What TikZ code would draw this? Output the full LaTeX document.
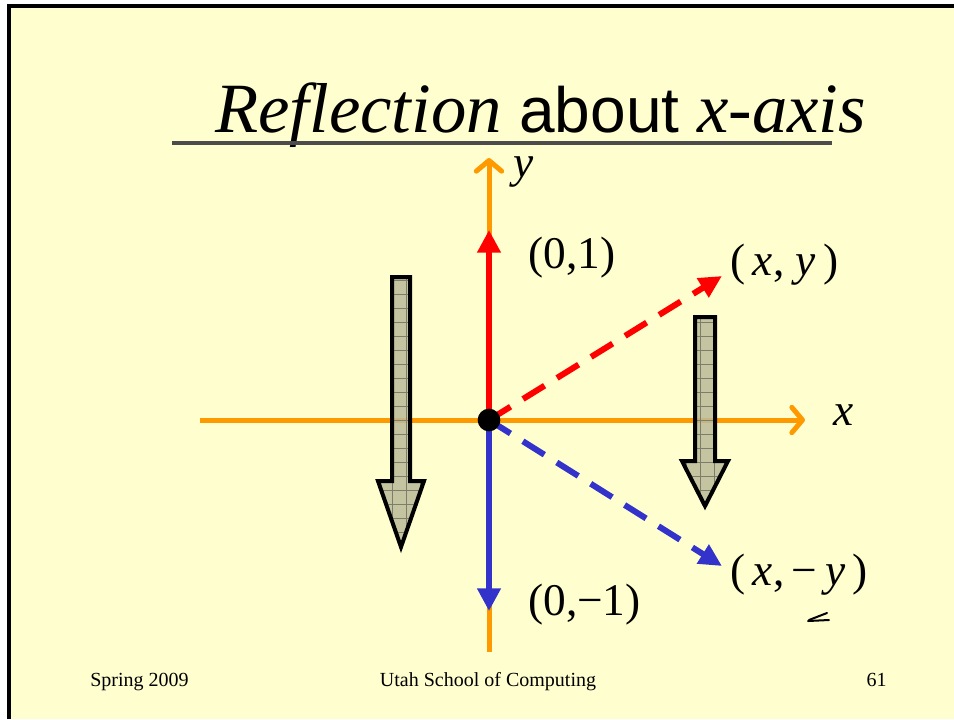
\documentclass[tikz,border=0pt]{standalone}
\usepackage{fontspec}
\setmainfont{Liberation Serif}
\newfontfamily\arialfont{Liberation Sans}
\usetikzlibrary{arrows.meta}
\definecolor{slidebg}{RGB}{255,254,206}
\definecolor{axisorange}{RGB}{255,153,0}
\definecolor{vecred}{RGB}{255,0,0}
\definecolor{vecblue}{RGB}{51,51,204}
\definecolor{blockfill}{RGB}{186,186,152}
\definecolor{blockgrid}{RGB}{125,125,110}

\begin{document}
\begin{tikzpicture}[x=0.75pt,y=-0.75pt,
  axis/.style={line width=3.75pt,axisorange,-{Straight Barb[length=8pt,width=19pt,round]}},
  vec/.style={line width=4pt,-{Triangle[length=17pt,width=17pt]}},
  dashvec/.style={line width=4.5pt,dash pattern=on 19pt off 11pt,-{Triangle[length=17pt,width=16pt]}},
  lbl/.style={anchor=west,inner sep=0pt,font=\fontsize{34}{40}\selectfont},
  foot/.style={inner sep=0pt,font=\fontsize{15}{18}\selectfont}]
\useasboundingbox (0,0) rectangle (954,719);
\fill[white] (0,0) rectangle (954,719);
\fill[slidebg] (9,6) rectangle (954,719);
\draw[line width=2.5pt] (9,719) -- (9,6) -- (954,6);

% title
\node[anchor=base west,inner sep=0pt,font=\fontsize{53}{60}\selectfont] (title) at (215,132)
  {\itshape Reflection\upshape\ {\arialfont\fontsize{48}{60}\selectfont about} \itshape x-axis};
\draw[line width=2.4pt,black!70] (172,143) -- (832,143);

% axes
\coordinate (o) at (489,420);
\coordinate (xl) at (200,420);
\coordinate (xr) at (805,420);
\coordinate (yb) at (489,652);
\coordinate (yt) at (489,158);
\draw[axis] (xl) -- (xr);
\draw[axis] (yb) -- (yt);
\node[lbl,font=\fontsize{34}{40}\selectfont\itshape] (xlab) at (833,415) {x};
\node[lbl,font=\fontsize{34}{40}\selectfont\itshape] (ylab) at (513,172) {y};

% block arrows
\foreach \xa/\xb/\ya/\yb/\ha/\hb/\yc in {392/410/277/481/378/424/547, 695/715/317/461/682/728/506}{
  \begin{scope}
    \clip (\xa,\ya) -- (\xb,\ya) -- (\xb,\yb) -- (\hb,\yb)
      -- ({(\xa+\xb)/2},\yc) -- (\ha,\yb) -- (\xa,\yb) -- cycle;
    \fill[blockfill,opacity=0.85] (300,200) rectangle (800,600);
    \draw[blockgrid,line width=0.5pt,step=10.5pt] (300,200) grid (800,600);
  \end{scope}
  \draw[line width=3pt,line join=miter] (\xa,\ya) -- (\xb,\ya) -- (\xb,\yb) -- (\hb,\yb)
    -- ({(\xa+\xb)/2},\yc) -- (\ha,\yb) -- (\xa,\yb) -- cycle;
}

% vectors
\coordinate (e1) at (489,230);
\coordinate (e2) at (489,611);
\coordinate (p) at (722,276);
\coordinate (q) at (722,566);
\draw[vec,vecred] (o) -- (e1);
\draw[vec,vecblue] (o) -- (e2);
\draw[dashvec,vecred] (o) -- (p);
\draw[dashvec,vecblue] (o) -- (q);
\fill (o) circle (8.5pt);

\node[lbl] (up) at (528,258) {(0,1)};
\node[lbl] (down) at (528,605) {(0,−1)};
\node[lbl] (pl) at (730,265) {(\,\textit{x}, \textit{y}\,)};
\node[lbl] (ql) at (730,575) {(\,\textit{x},\,−\,\textit{y}\,)};
\draw[line width=1.5pt,line cap=round] (809,620) -- (827,613);
\draw[line width=1.5pt,line cap=round] (808,621) -- (829,620);

% footer
\node[foot,anchor=base west] (f1) at (90,686) {Spring 2009};
\node[foot,anchor=base] (f2) at (488,686) {Utah School of Computing};
\node[foot,anchor=base east] (f3) at (887,686) {61};
\end{tikzpicture}
\end{document}
